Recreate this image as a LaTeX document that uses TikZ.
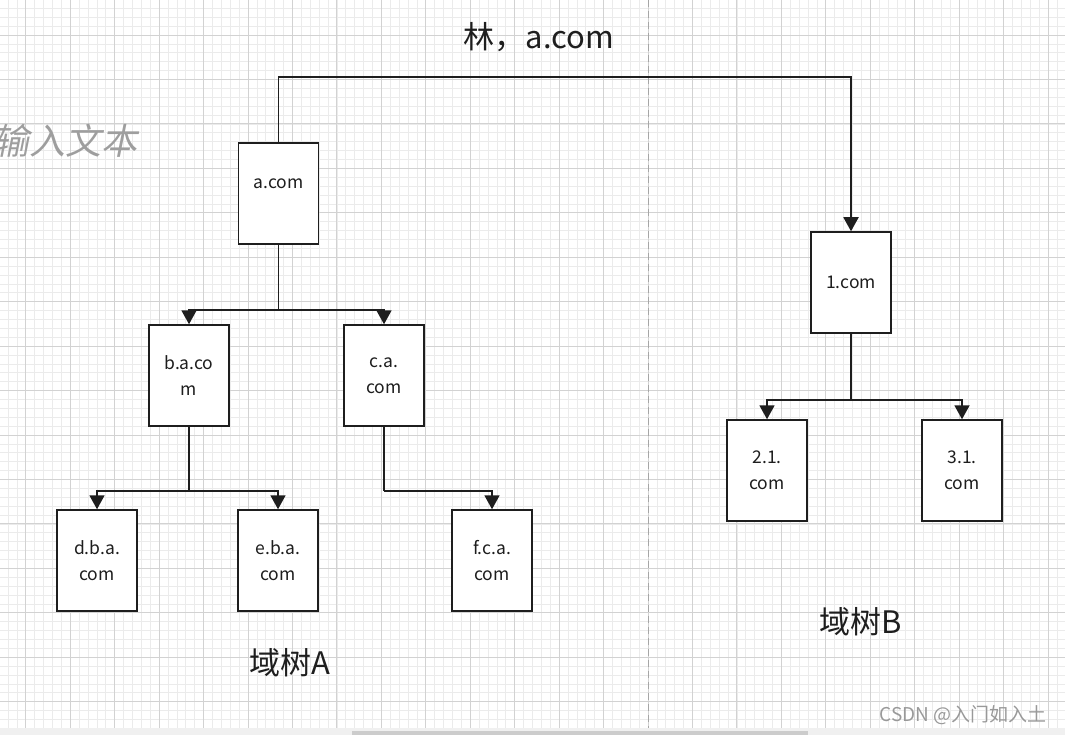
\documentclass[tikz,border=0pt]{standalone}
\usepackage{fontspec}
\setmainfont{Noto Sans CJK SC}
\newfontfamily\slantcjk[FakeSlant=0.2]{Noto Sans CJK SC}
\usetikzlibrary{arrows.meta, positioning}
\definecolor{ink}{HTML}{1E1E1E}
\definecolor{gridmajor}{HTML}{D2D2D2}
\definecolor{gridminor}{HTML}{EBEBEB}
\tikzset{domain node/.style={rectangle, draw=ink, fill=white, line width=1.5pt, minimum width=80pt, minimum height=101pt, inner sep=0pt, align=center, font=\fontsize{17.5}{26}\selectfont, text=ink},
  tree label/.style={font=\fontsize{31}{33}\selectfont, text=ink},
  link/.style={draw=ink, line width=1.8pt},
  arrow/.style={link, -{Triangle[width=15pt,length=14pt]}}
}

\begin{document}
\begin{tikzpicture}[x=1pt, y=-1pt]
  \useasboundingbox (0,0) rectangle (1065,735);
  % Canvas
  \fill[white] (0,0) rectangle (1065,728);
  \foreach \i in {-2,...,116} \draw[gridminor, line width=0.6pt] ({25.7+\i*8.889},0) -- ({25.7+\i*8.889},728);
  \foreach \j in {-3,...,77} \draw[gridminor, line width=0.6pt] (0,{35+\j*8.889}) -- (1065,{35+\j*8.889});
  \foreach \i in {0,...,23} \draw[gridmajor, line width=0.8pt] ({25.7+\i*44.445},0) -- ({25.7+\i*44.445},728);
  \foreach \j in {0,...,15} \draw[gridmajor, line width=0.8pt] (0,{35+\j*44.445}) -- (1065,{35+\j*44.445});
  \fill[black!6] (0,728) rectangle (1065,735);
  \fill[black!20] (352,731) rectangle (808,735);
  \draw[black!35, line width=0.8pt, dash pattern=on 7pt off 4pt] (648,0) -- (648,728);
  % Texts
  \node[text=black!38, font=\slantcjk\fontsize{36}{38}\selectfont] (hint) at (66,141) {输入文本};
  \node[tree label] (forest) at (539,37) {林，a.com};
  \node[tree label] (treea) at (290,663) {域树A};
  \node[tree label] (treeb) at (861,622) {域树B};
  \node[text=black!40, font=\fontsize{19}{21}\selectfont] (mark) at (963,715) {CSDN @入门如入土};
  % Tree A
  \node[domain node, text depth=20pt] (acom) at (278.5,193.5) {a.com};
  \node[domain node] (bacom) at (189,375.5) {b.a.co\\m};
  \node[domain node] (cacom) at (384,375.5) {c.a.\\com};
  \node[domain node] (dbacom) at (97,560.5) {d.b.a.\\com};
  \node[domain node] (ebacom) at (278,560.5) {e.b.a.\\com};
  \node[domain node] (fcacom) at (492,560.5) {f.c.a.\\com};
  % Tree B
  \node[domain node] (onecom) at (851,282.5) {1.com};
  \node[domain node] (twocom) at (767,470.5) {2.1.\\com};
  \node[domain node] (threecom) at (962,470.5) {3.1.\\com};
  % Junctions
  \coordinate (top) at (560,77);
  \coordinate (ja) at (278.5,310);
  \coordinate (jb) at (189,491);
  \coordinate (jc) at (384,491);
  \coordinate (j1) at (851,400);
  % Connections
  \draw[arrow] (acom.north) |- (top) -| (onecom.north);
  \draw[link] (acom.south) -- (ja);
  \draw[arrow] (ja) -| (bacom.north);
  \draw[arrow] (ja) -| (cacom.north);
  \draw[link] (bacom.south) -- (jb);
  \draw[arrow] (jb) -| (dbacom.north);
  \draw[arrow] (jb) -| (ebacom.north);
  \draw[link] (cacom.south) -- (jc);
  \draw[arrow] (jc) -| (fcacom.north);
  \draw[link] (onecom.south) -- (j1);
  \draw[arrow] (j1) -| (twocom.north);
  \draw[arrow] (j1) -| (threecom.north);
\end{tikzpicture}
\end{document}
